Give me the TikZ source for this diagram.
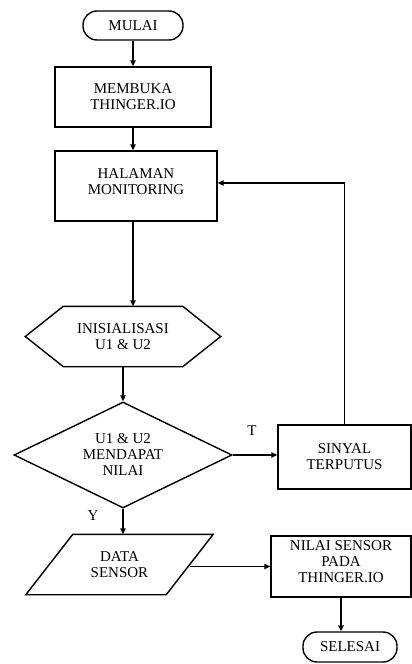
\documentclass[tikz,border=0pt]{standalone}
\usepackage{fontspec}
\setmainfont{Liberation Serif}
\usetikzlibrary{arrows.meta,shapes.geometric,calc}
\begin{document}
\begin{tikzpicture}[x=1pt,y=-1pt,
  every node/.style={font=\fontsize{15}{16}\selectfont, align=center, line width=1.4pt},
  term/.style={draw, rounded corners=14pt, minimum height=29pt, inner sep=0pt},
  proc/.style={draw, rectangle, inner sep=0pt},
  outline/.style={line width=1.4pt},
  arr/.style={-{Triangle[length=6pt,width=5.5pt]}, line width=1.4pt}]
\useasboundingbox (0,0) rectangle (412,664);
\def\xmain{133};
\def\xdec{123};
\node[term, minimum width=100pt] (mulai) at (\xmain,25.5) {MULAI};
\node[proc, minimum width=156pt, minimum height=60pt] (membuka) at (\xmain,97) {MEMBUKA\\THINGER.IO};
\node[proc, minimum width=162pt, minimum height=70pt] (halaman) at (136,186) {};
\node (halamantext) at (136,182) {HALAMAN\\MONITORING};
\node[minimum width=194pt, minimum height=59pt, inner sep=0pt] (inis) at (\xdec,336.5) {INISIALISASI\\U1 \& U2};
\draw[outline] (inis.west) -- ([xshift=38pt]inis.north west) -- ([xshift=-38pt]inis.north east)
  -- (inis.east) -- ([xshift=-38pt]inis.south east) -- ([xshift=38pt]inis.south west) -- cycle;
\node[draw, diamond, minimum width=218pt, minimum height=106pt, inner sep=0pt, aspect=2.06] (diam) at (\xdec,455) {U1 \& U2\\MENDAPAT\\NILAI};
\node[proc, minimum width=133pt, minimum height=64pt] (sinyal) at (344.5,457) {SINYAL\\TERPUTUS};
\node[minimum width=186pt, minimum height=59pt, inner sep=0pt] (data) at (119.5,564.5) {DATA\\SENSOR};
\draw[outline] ([xshift=47pt]data.north west) -- (data.north east) -- ([xshift=-47pt]data.south east)
  -- (data.south west) -- cycle;
\node[proc, minimum width=140pt, minimum height=61pt] (nilai) at (341,566.5) {};
\node (nilaitext) at (341,562) {NILAI SENSOR\\PADA\\THINGER.IO};
\node[term, minimum width=94pt, minimum height=30pt] (selesai) at (350,647) {SELESAI};
\node (t) at (252,431) {T};
\node (y) at (93,516) {Y};
\draw[arr] (mulai.south) -- (membuka.north);
\draw[arr] (membuka.south) -- (membuka.south |- halaman.north);
\draw[arr] (membuka.south |- halaman.south) -- (membuka.south |- inis.north);
\draw[arr] (inis.south) -- (diam.north);
\draw[arr] (diam.east) -- (diam.east -| sinyal.west);
\draw[arr] (sinyal.north) |- ([yshift=3pt]halaman.east);
\draw[arr] (diam.south) -- (diam.south |- data.north);
\draw[arr] ([xshift=-23.5pt]data.east |- nilai.west) -- (nilai.west);
\draw[arr] (nilai.south) -- (nilai.south |- selesai.north);
\end{tikzpicture}
\end{document}
